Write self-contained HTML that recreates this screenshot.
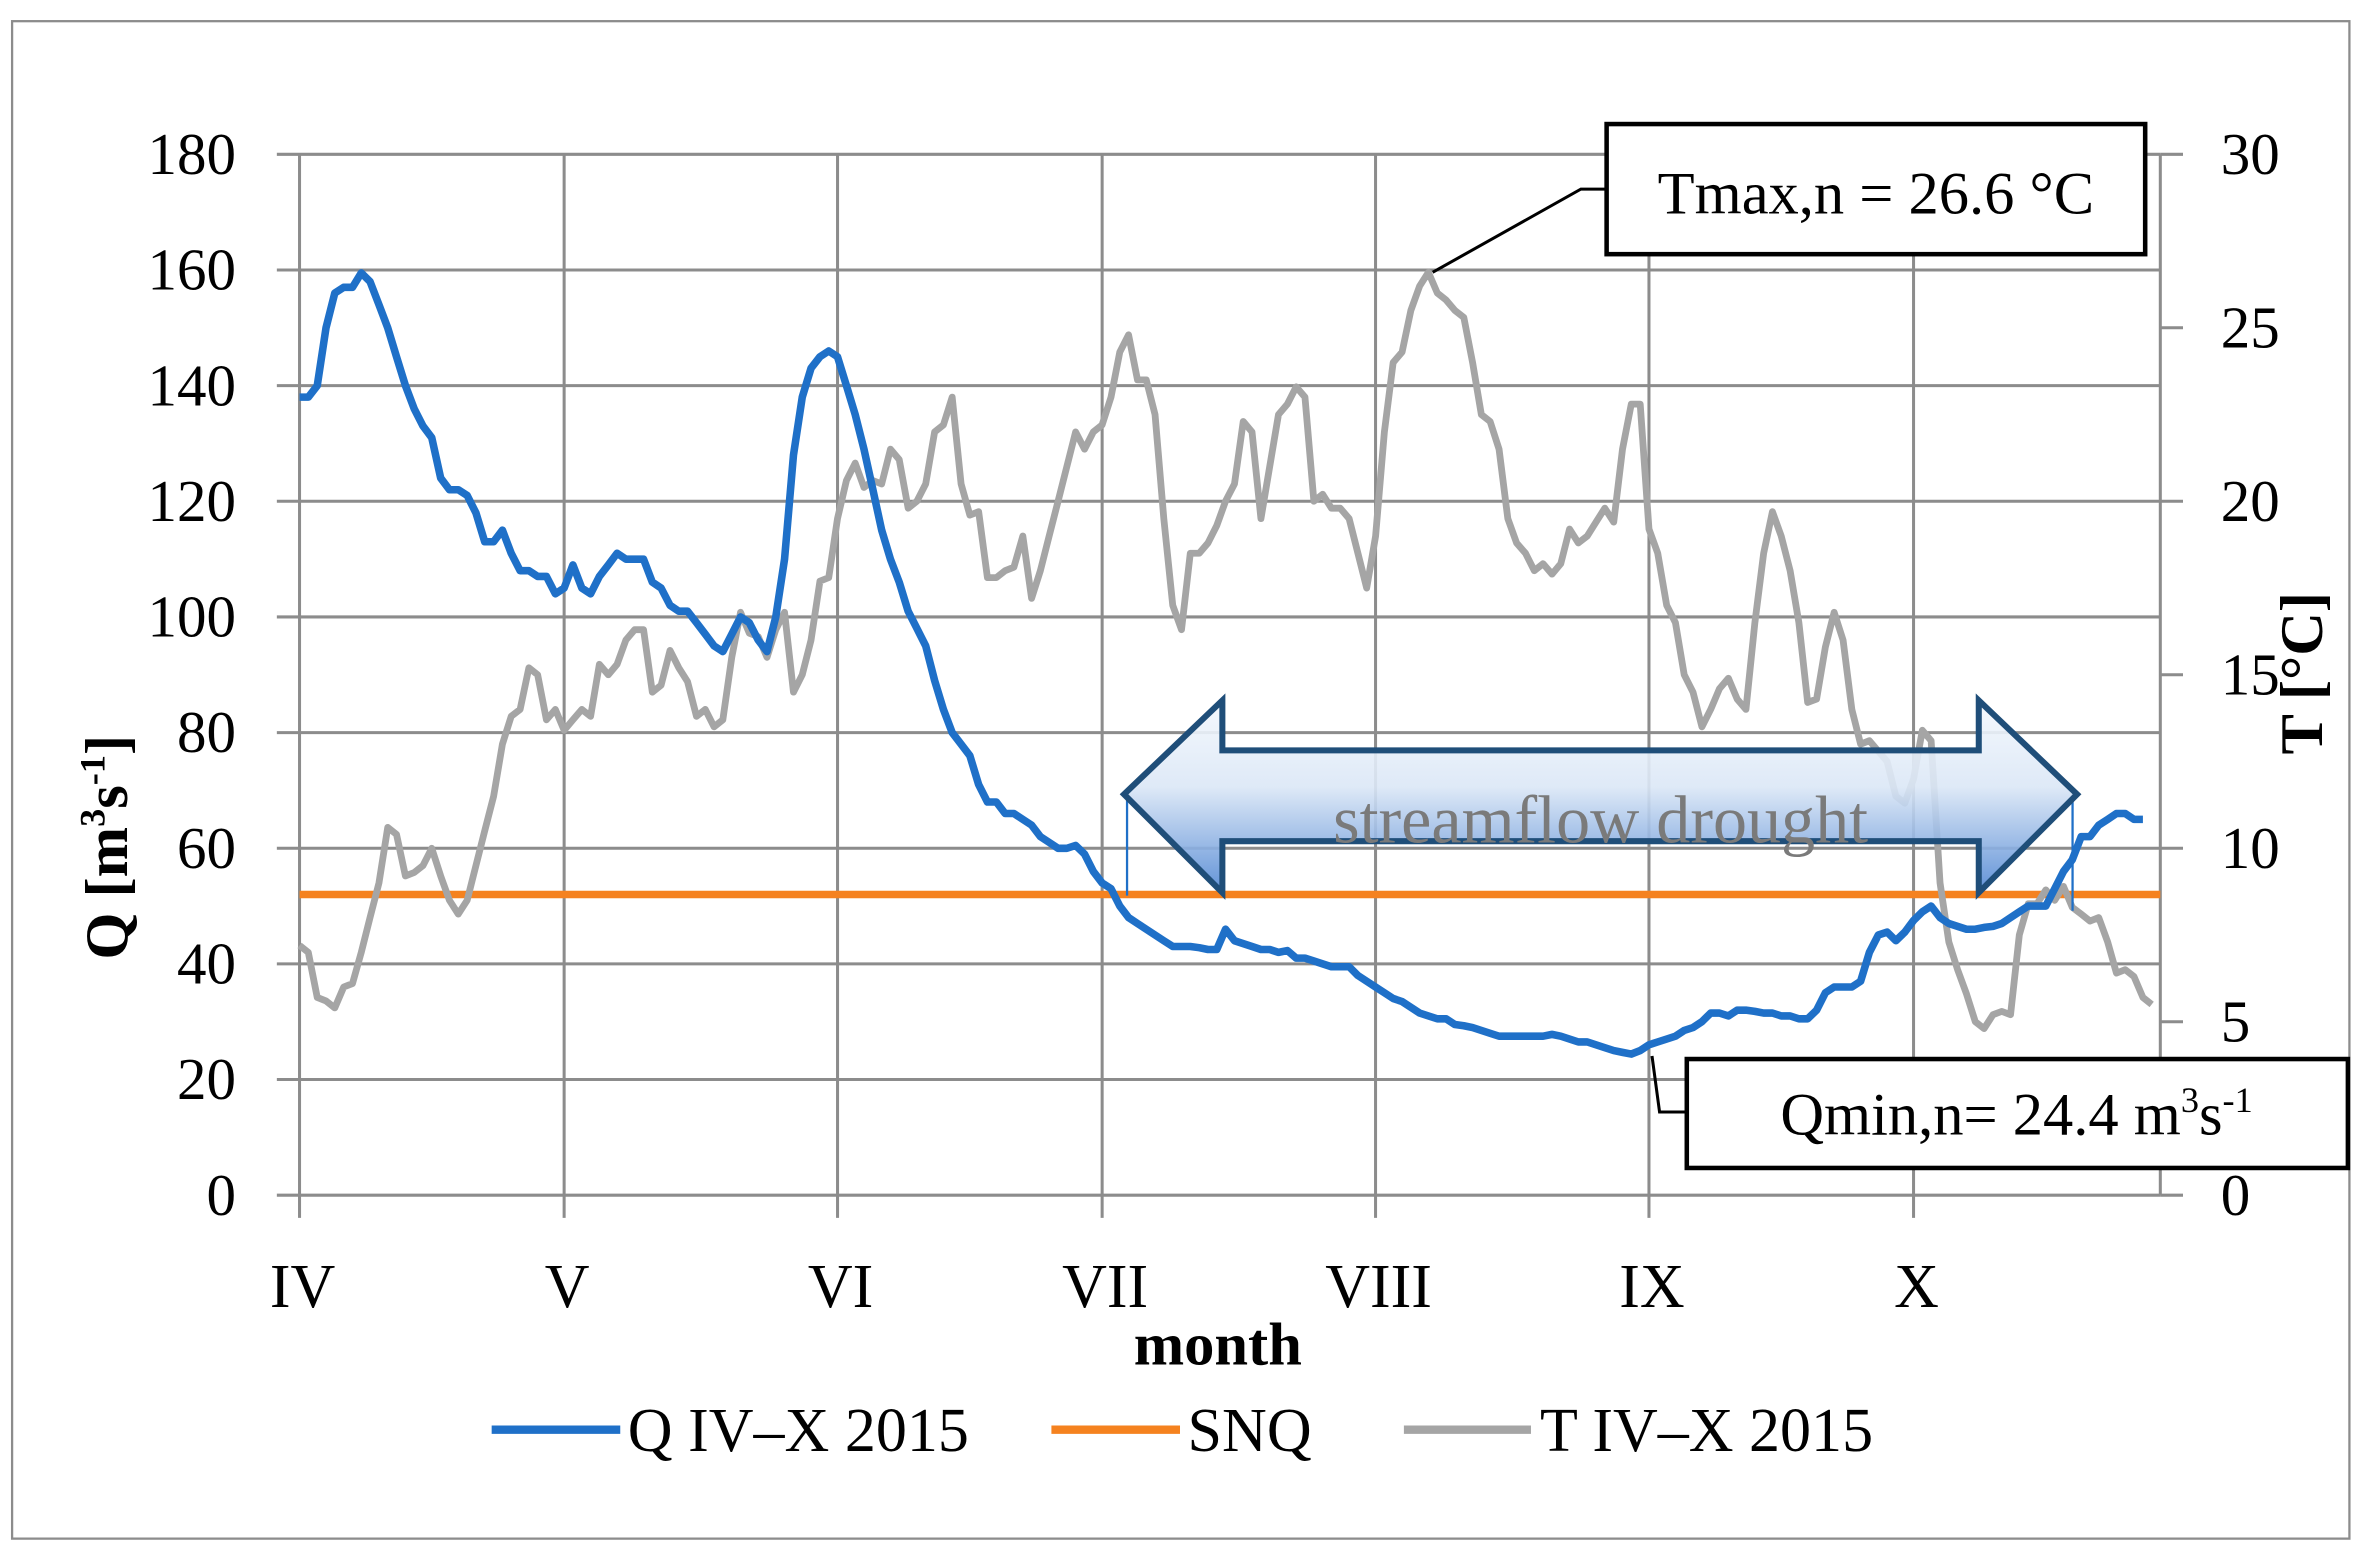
<!DOCTYPE html>
<html><head><meta charset="utf-8">
<style>
html,body{margin:0;padding:0;background:#fff;}
svg{display:block;}
text{font-family:"Liberation Serif",serif;}
</style></head>
<body>
<svg id="chart" xmlns="http://www.w3.org/2000/svg" width="2360" height="1553" viewBox="0 0 1560 1026.5" preserveAspectRatio="none">
<defs>
<linearGradient id="arrowGrad" x1="0" y1="0" x2="0" y2="1">
<stop offset="0" stop-color="#f4f8fd"/>
<stop offset="0.45" stop-color="#dbe7f6"/>
<stop offset="1" stop-color="#4f86d3"/>
</linearGradient>
</defs>
<rect x="8" y="14" width="1545" height="1003" fill="#fff" stroke="#8c8c8c" stroke-width="1.5"/>
<g id="grid"></g>
<g id="series"></g>
<g id="annot"></g>
</svg>
<script>
const monthLabels = ["IV","V","VI","VII","VIII","IX","X"];
const monthStartDays = [0,30,61,91,122,153,183];
const qTicks = [0,20,40,60,80,100,120,140,160,180];
const tTicks = [0,5,10,15,20,25,30];
const snqValue = 52;
const qVals = [138,138,140,150,156,157,157,159.5,158,154,150,145,140,136,133,131,124,122,122,121,118,113,113,115,111,108,108,107,107,104,105,109,105,104,107,109,111,110,110,110,106,105,102,101,101,99,97,95,94,97,100,99,96,94,100,110,128,138,143,145,146,145,140,135,129,122,115,110,106,101,98,95,89,84,80,78,76,71,68,68,66,66,65,64,62,61,60,60,60.5,59,56,54,53,50,48,47,46,45,44,43,43,43,42.8,42.5,42.5,46,44,43.5,43,42.5,42.5,42,42.3,41,41,40.5,40,39.5,39.5,39.5,38,37,36,35,34,33.5,32.5,31.5,31,30.5,30.5,29.5,29.3,29,28.5,28,27.5,27.5,27.5,27.5,27.5,27.5,27.8,27.5,27,26.5,26.5,26,25.5,25,24.7,24.4,25,26,26.5,27,27.5,28.5,29,30,31.5,31.5,31,32,32,31.8,31.5,31.5,31,31,30.5,30.5,32,35,36,36,36,37,42,45,45.5,44,45.5,47.5,49,50,48,47,46.5,46,46,46.3,46.5,47,48,49,50,50,50,53,56,58,62,62,64,65,66,66,65,65];
const tVals = [7.2,7,5.7,5.6,5.4,6,6.1,7,8,9,10.6,10.4,9.2,9.3,9.5,10,9.2,8.5,8.1,8.5,9.5,10.5,11.5,13,13.8,14,15.2,15,13.7,14,13.4,13.7,14,13.8,15.3,15,15.3,16,16.3,16.3,14.5,14.7,15.7,15.2,14.8,13.8,14,13.5,13.7,15.5,16.8,16.2,16.1,15.5,16.3,16.8,14.5,15,16,17.7,17.8,19.5,20.6,21.1,20.4,20.6,20.5,21.5,21.2,19.8,20,20.5,22,22.2,23,20.5,19.6,19.7,17.8,17.8,18,18.1,19,17.2,18,19,20,21,22,21.5,22,22.2,23,24.3,24.8,23.5,23.5,22.5,19.5,17,16.3,18.5,18.5,18.8,19.3,20,20.5,22.3,22,19.5,21,22.5,22.8,23.3,23,20,20.2,19.8,19.8,19.5,18.5,17.5,19,22,24,24.3,25.5,26.2,26.6,26,25.8,25.5,25.3,24,22.5,22.3,21.5,19.5,18.8,18.5,18,18.2,17.9,18.2,19.2,18.8,19,19.4,19.8,19.4,21.5,22.8,22.8,19.2,18.5,17,16.5,15,14.5,13.5,14,14.6,14.9,14.3,14,16.5,18.5,19.7,19,18,16.5,14.2,14.3,15.8,16.8,16,14,13,13.1,12.8,12.5,11.5,11.3,12,13.4,13.1,9,7.3,6.5,5.8,5,4.8,5.2,5.3,5.2,7.5,8.4,8.4,8.8,8.5,8.9,8.3,8.1,7.9,8,7.3,6.4,6.5,6.3,5.7,5.5];

const NS = "http://www.w3.org/2000/svg";
const X0 = 198, DAYPX = 5.83, Y0 = 790, YTOP = 102, QMAX = 180, TMAX = 30;
function xDay(d){ return X0 + d*DAYPX; }
function yQ(v){ return Y0 - (v/QMAX)*(Y0-YTOP); }
function yT(v){ return Y0 - (v/TMAX)*(Y0-YTOP); }
function mk(tag, attrs, parent){
  const e = document.createElementNS(NS, tag);
  for (const k in attrs) e.setAttribute(k, attrs[k]);
  parent.appendChild(e); return e;
}
const grid = document.getElementById('grid');
const series = document.getElementById('series');

qTicks.forEach(v=>{
  const l = mk('line',{x1:183,x2:1428,y1:yQ(v),y2:yQ(v),stroke:'#8c8c8c','stroke-width':2},grid);
  
  
  const t = mk('text',{x:156,y:yQ(v)+13,'text-anchor':'end','font-size':39,fill:'#000'},grid);
  t.textContent = v;
  
  
});
tTicks.forEach(v=>{
  const l = mk('line',{x1:1428,x2:1443,y1:yT(v),y2:yT(v),stroke:'#8c8c8c','stroke-width':2},grid);
  
  
  const t = mk('text',{x:1468,y:yT(v)+13,'text-anchor':'start','font-size':39,fill:'#000'},grid);
  t.textContent = v;
  
  
});
mk('line',{x1:1428,x2:1428,y1:YTOP,y2:Y0,stroke:'#8c8c8c','stroke-width':2},grid);
monthStartDays.forEach((d,i)=>{
  const x = xDay(d);
  const l = mk('line',{x1:x,x2:x,y1:YTOP,y2:805,stroke:'#8c8c8c','stroke-width':2},grid);
  
  
  const t = mk('text',{x:x+2,y:864,'text-anchor':'middle','font-size':41,fill:'#000'},grid);
  t.textContent = monthLabels[i];
  
  
});

function pathFor(vals, yf){
  return vals.map((v,i)=>(i?'L':'M')+xDay(i).toFixed(1)+','+yf(v).toFixed(1)).join(' ');
}
const snq = mk('line',{x1:198,x2:1428,y1:yQ(snqValue),y2:yQ(snqValue),stroke:'#f5821f','stroke-width':5},series);


const tp = mk('path',{d:pathFor(tVals,yT),fill:'none',stroke:'#a5a5a5','stroke-width':4.5,'stroke-linejoin':'round'},series);


const qp = mk('path',{d:pathFor(qVals,yQ),fill:'none',stroke:'#1f70c8','stroke-width':5,'stroke-linejoin':'round'},series);


</script>
<script>
(function(){
const a = document.getElementById('annot');
a.innerHTML = `
<line x1="745" y1="525" x2="745" y2="592" stroke="#1f70c8" stroke-width="1.5"/>
<line x1="1370" y1="525" x2="1370" y2="602" stroke="#1f70c8" stroke-width="1.5"/>
<polygon points="743,525 808,463 808,496 1308,496 1308,463 1373,525 1308,590 1308,556 808,556 808,590" fill="url(#arrowGrad)" fill-opacity="0.9" stroke="#1f4e79" stroke-width="4" stroke-linejoin="miter"/>
<text x="1058" y="557" text-anchor="middle" font-size="45" fill="#7a7a7a">streamflow drought</text>
<polyline points="947,180 1045,125 1062,125" fill="none" stroke="#000" stroke-width="2"/>
<rect x="1062" y="82" width="356" height="86" fill="#fff" stroke="#000" stroke-width="3"/>
<text x="1240" y="141" text-anchor="middle" font-size="40">Tmax,n = 26.6 °C</text>
<polyline points="1092,698 1097,735 1115,735" fill="none" stroke="#000" stroke-width="2"/>
<rect x="1115" y="700" width="437" height="72" fill="#fff" stroke="#000" stroke-width="3"/>
<text x="1333" y="750" text-anchor="middle" font-size="40">Qmin,n= 24.4 m<tspan font-size="24" dy="-15">3</tspan><tspan dy="15">s</tspan><tspan font-size="24" dy="-15">-1</tspan></text>
<text x="805" y="902" text-anchor="middle" font-size="40" font-weight="bold">month</text>
<text transform="translate(84,560) rotate(-90)" text-anchor="middle" font-size="40" font-weight="bold">Q [m<tspan font-size="24" dy="-15">3</tspan><tspan dy="15">s</tspan><tspan font-size="24" dy="-15">-1</tspan><tspan dy="15">]</tspan></text>
<text transform="translate(1535,445) rotate(-90)" text-anchor="middle" font-size="40" font-weight="bold">T [°C]</text>
<g>
<line x1="325" y1="945" x2="410" y2="945" stroke="#1f70c8" stroke-width="5.5"/>
<text x="415" y="959" font-size="41">Q IV–X 2015</text>
<line x1="695" y1="945" x2="780" y2="945" stroke="#f5821f" stroke-width="5.5"/>
<text x="785" y="959" font-size="41">SNQ</text>
<line x1="928" y1="945" x2="1012" y2="945" stroke="#a5a5a5" stroke-width="5.5"/>
<text x="1018" y="959" font-size="41">T IV–X 2015</text>
</g>`;
})();
</script>
</body></html>
